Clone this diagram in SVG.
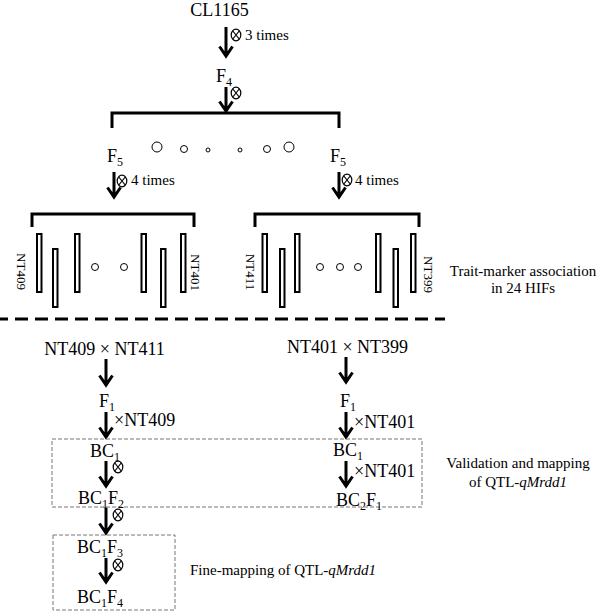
<svg xmlns="http://www.w3.org/2000/svg" width="600" height="611" viewBox="0 0 600 611" font-family="'Liberation Serif', 'Times New Roman', 'DejaVu Serif', serif">
<defs>
<style>
text{font-family:'Liberation Serif','Times New Roman','DejaVu Serif',serif;fill:#000}
.m{font-size:18px}
.s{font-size:15px}
.r{font-size:13px}
.sub{font-size:12px}
.arr{fill:none;stroke:#000;stroke-width:3}
.brk{fill:none;stroke:#000;stroke-width:3}
.bar{fill:#fff;stroke:#000;stroke-width:2}
.dot{fill:#fff;stroke:#000;stroke-width:1}
.box{fill:none;stroke:#777;stroke-width:1;stroke-dasharray:4 2}
.sx{fill:none;stroke:#000;stroke-width:1.2}
</style>
<g id="self">
<ellipse cx="0" cy="0" rx="4.8" ry="5.8" class="sx"/>
<path d="M-3.2,-4L3.2,4M3.2,-4L-3.2,4" class="sx"/>
</g>
</defs>

<g id="connectors">
<path class="arr" d="M226,27V56M219.5,46.5L226,56L232.5,46.5"/>
<path class="arr" d="M226,87V111M219.5,101.5L226,111L232.5,101.5"/>
<path class="arr" d="M114,172V197M107.5,187.5L114,197L120.5,187.5"/>
<path class="arr" d="M339,172V197M332.5,187.5L339,197L345.5,187.5"/>
<path class="arr" d="M106,359V385M99.5,375.5L106,385L112.5,375.5"/>
<path class="arr" d="M106,412V437M99.5,427.5L106,437L112.5,427.5"/>
<path class="arr" d="M106,461V486M99.5,476.5L106,486L112.5,476.5"/>
<path class="arr" d="M106,508V533M99.5,523.5L106,533L112.5,523.5"/>
<path class="arr" d="M106,558V582M99.5,572.5L106,582L112.5,572.5"/>
<path class="arr" d="M346,357V382M339.5,372.5L346,382L352.5,372.5"/>
<path class="arr" d="M346,412V437M339.5,427.5L346,437L352.5,427.5"/>
<path class="arr" d="M346,461V486M339.5,476.5L346,486L352.5,476.5"/>
<use href="#self" x="236" y="35"/>
<use href="#self" x="236" y="93"/>
<use href="#self" x="122" y="181"/>
<use href="#self" x="347" y="180"/>
<use href="#self" x="118" y="467"/>
<use href="#self" x="118" y="515"/>
<use href="#self" x="118" y="565"/>
<text class="s" x="245" y="40">3 times</text>
<text class="s" x="131" y="185">4 times</text>
<text class="s" x="355" y="185">4 times</text>
<text class="m" x="114" y="426">×NT409</text>
<text class="m" x="354" y="428">×NT401</text>
<text class="m" x="354" y="477">×NT401</text>
</g>

<g id="cl1165"><text class="m" x="219.5" y="16" text-anchor="middle">CL1165</text></g>
<g id="f4"><text class="m" x="216" y="82">F<tspan class="sub" dy="4">4</tspan></text></g>

<g id="bracket-top"><path class="brk" d="M112,128V113H339V128"/></g>
<g id="lines-f5">
<circle class="dot" cx="157" cy="147" r="5"/>
<circle class="dot" cx="184" cy="149" r="3.5"/>
<circle class="dot" cx="208" cy="150" r="2"/>
<circle class="dot" cx="240" cy="150" r="2"/>
<circle class="dot" cx="267" cy="149" r="3.5"/>
<circle class="dot" cx="289" cy="147" r="5"/>
</g>
<g id="f5-left"><text class="m" x="107" y="162">F<tspan class="sub" dy="4">5</tspan></text></g>
<g id="f5-right"><text class="m" x="330" y="162">F<tspan class="sub" dy="4">5</tspan></text></g>

<g id="hifs-left">
<path class="brk" d="M32,227V214H194V227"/>
<rect class="bar" x="37" y="234" width="4.5" height="58"/>
<rect class="bar" x="53" y="249" width="4.5" height="58"/>
<rect class="bar" x="75" y="234" width="4.5" height="58"/>
<rect class="bar" x="141.5" y="234" width="4.5" height="58"/>
<rect class="bar" x="161" y="249" width="4.5" height="58"/>
<rect class="bar" x="181" y="234" width="4.5" height="58"/>
<circle class="dot" cx="95" cy="267" r="3.5"/>
<circle class="dot" cx="124" cy="267" r="3.5"/>
<text class="r" transform="translate(16.7,271.5) rotate(90)" text-anchor="middle">NT409</text>
<text class="r" transform="translate(190.7,272.5) rotate(90)" text-anchor="middle">NT401</text>
</g>

<g id="hifs-right">
<path class="brk" d="M255,227V214H419V227"/>
<rect class="bar" x="262.5" y="234" width="4.5" height="58"/>
<rect class="bar" x="280" y="249" width="4.5" height="58"/>
<rect class="bar" x="295" y="234" width="4.5" height="58"/>
<rect class="bar" x="376" y="234" width="4.5" height="58"/>
<rect class="bar" x="393.5" y="249" width="4.5" height="58"/>
<rect class="bar" x="411" y="234" width="4.5" height="58"/>
<circle class="dot" cx="320" cy="267" r="3.5"/>
<circle class="dot" cx="340" cy="267" r="3.5"/>
<circle class="dot" cx="358" cy="267" r="3.5"/>
<text class="r" transform="translate(245.7,272) rotate(90)" text-anchor="middle">NT411</text>
<text class="r" transform="translate(423.7,274.5) rotate(90)" text-anchor="middle">NT399</text>
</g>

<g id="label-trait">
<text class="s" x="523" y="276" text-anchor="middle">Trait-marker association</text>
<text class="s" x="523" y="293" text-anchor="middle">in 24 HIFs</text>
</g>

<g id="divider"><path d="M0,319H445" stroke="#000" stroke-width="3" stroke-dasharray="13 7" stroke-dashoffset="5"/></g>

<g id="cross-left"><text class="m" x="104.5" y="355" text-anchor="middle">NT409 × NT411</text></g>
<g id="cross-right"><text class="m" x="347.5" y="353" text-anchor="middle">NT401 × NT399</text></g>
<g id="f1-left"><text class="m" x="99" y="407">F<tspan class="sub" dy="4">1</tspan></text></g>
<g id="f1-right"><text class="m" x="340" y="407">F<tspan class="sub" dy="4">1</tspan></text></g>

<g id="box-validation"><rect class="box" x="52" y="439" width="370" height="68"/></g>
<g id="bc1-left"><text class="m" x="90" y="457">BC<tspan class="sub" dy="4">1</tspan></text></g>
<g id="bc1f2"><text class="m" x="78" y="504">BC<tspan class="sub" dy="4">1</tspan><tspan dy="-4">F</tspan><tspan class="sub" dy="4">2</tspan></text></g>
<g id="bc1-right"><text class="m" x="333" y="456">BC<tspan class="sub" dy="3.5">1</tspan></text></g>
<g id="bc2f1"><text class="m" x="336" y="506">BC<tspan class="sub" dy="4">2</tspan><tspan dy="-4">F</tspan><tspan class="sub" dy="4">1</tspan></text></g>
<g id="label-validation">
<text class="s" x="518" y="468" text-anchor="middle">Validation and mapping</text>
<text class="s" x="518" y="487" text-anchor="middle">of QTL-<tspan font-style="italic">qMrdd1</tspan></text>
</g>

<g id="box-fine"><rect class="box" x="53" y="535" width="122" height="75"/></g>
<g id="bc1f3"><text class="m" x="77" y="553">BC<tspan class="sub" dy="4">1</tspan><tspan dy="-4">F</tspan><tspan class="sub" dy="4">3</tspan></text></g>
<g id="bc1f4"><text class="m" x="77" y="603">BC<tspan class="sub" dy="4">1</tspan><tspan dy="-4">F</tspan><tspan class="sub" dy="4">4</tspan></text></g>
<g id="label-fine"><text class="s" x="190" y="575">Fine-mapping of QTL-<tspan font-style="italic">qMrdd1</tspan></text></g>
</svg>
